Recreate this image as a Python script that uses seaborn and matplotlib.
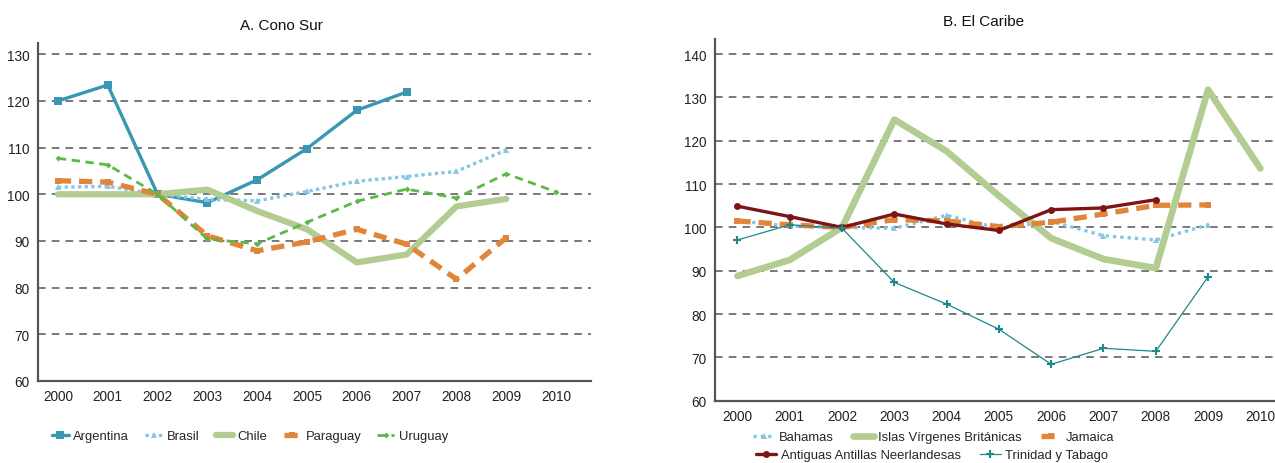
import numpy as np
import pandas as pd
import matplotlib
matplotlib.use("Agg")
import matplotlib.pyplot as plt
import seaborn as sns

sns.set_style("white")
plt.rcParams["font.family"] = ["Liberation Sans", "DejaVu Sans"]

years = list(range(2000, 2011))

# A. Cono Sur
argentina = [120.0, 123.4, 100.0, 98.2, 103.1, 109.8, 118.0, 121.9, None, None, None]
brasil    = [101.5, 101.7, 100.0, 98.9, 98.6, 100.6, 102.8, 103.8, 104.9, 109.5, None]
chile     = [100.0, 100.0, 100.0, 101.0, 96.4, 92.5, 85.4, 87.1, 97.4, 99.0, None]
paraguay  = [102.9, 102.6, 100.0, 91.1, 87.9, 89.8, 92.5, 89.3, 81.8, 90.7, None]
uruguay   = [107.7, 106.3, 100.0, 90.4, 89.4, 94.0, 98.5, 101.1, 99.2, 104.4, 100.5]

# B. El Caribe
bahamas   = [101.5, 100.3, 100.0, 99.8, 102.8, 99.8, 101.4, 98.1, 97.1, 100.6, None]
islas     = [88.8, 92.5, 100.0, 124.9, 117.6, 107.3, 97.5, 92.7, 90.6, 131.8, 113.6]
jamaica   = [101.5, 100.6, 100.0, 101.8, 101.5, 100.2, 101.2, 103.1, 105.1, 105.2, None]
antillas  = [104.9, 102.5, 100.0, 103.1, 100.8, 99.3, 104.1, 104.5, 106.4, None, None]
trinidad  = [97.1, 100.6, 99.8, 87.3, 82.3, 76.5, 68.4, 72.1, 71.4, 88.6, None]

panel_a = {"Argentina": argentina, "Brasil": brasil, "Chile": chile,
           "Paraguay": paraguay, "Uruguay": uruguay}
panel_b = {"Bahamas": bahamas, "Islas Vírgenes Británicas": islas,
           "Jamaica": jamaica, "Antiguas Antillas Neerlandesas": antillas,
           "Trinidad y Tabago": trinidad}

styles = {
    "Argentina": dict(color="#3a97b1", lw=2.4, ls="-", marker="s", ms=6),
    "Brasil": dict(color="#86c5e6", lw=2.4, ls=(0, (1, 1)), marker="^", ms=4),
    "Chile": dict(color="#b3cc92", lw=4.5, ls="-", marker=None, ms=0),
    "Paraguay": dict(color="#e0853a", lw=3.8, ls=(0, (2.5, 1.5)), marker="s", ms=4),
    "Uruguay": dict(color="#5cb947", lw=2.0, ls=(0, (3, 2)), marker="D", ms=3),
    "Bahamas": dict(color="#86c5e6", lw=2.4, ls=(0, (1, 1.2)), marker="^", ms=4),
    "Islas Vírgenes Británicas": dict(color="#b3cc92", lw=4.8, ls="-", marker=None, ms=0),
    "Jamaica": dict(color="#e0853a", lw=3.8, ls=(0, (2.5, 1.5)), marker="s", ms=4),
    "Antiguas Antillas Neerlandesas": dict(color="#7d1416", lw=2.4, ls="-", marker="o", ms=5),
    "Trinidad y Tabago": dict(color="#1a8a8c", lw=0.9, ls="-", marker="+", ms=6),
}


def long_df(series):
    rows = []
    for name, vals in series.items():
        for yr, v in zip(years, vals):
            if v is not None:
                rows.append({"year": yr, "value": v, "serie": name})
    return pd.DataFrame(rows)


W, H = 1275, 464
fig = plt.figure(figsize=(W / 100, H / 100), dpi=100)
ax_a = fig.add_axes([38 / W, 1 - 382 / H, (591 - 38) / W, (382 - 44) / H])
ax_b = fig.add_axes([715 / W, 1 - 401.7 / H, (W - 715) / W, (401.7 - 40) / H])


def draw(ax, series, title, ylim, yticks, xlim):
    df = long_df(series)
    for name in series:
        st = styles[name]
        sub = df[df["serie"] == name]
        sns.lineplot(data=sub, x="year", y="value", ax=ax, color=st["color"],
                     linewidth=st["lw"], linestyle=st["ls"], marker=st["marker"],
                     markersize=st["ms"], markeredgewidth=1.5 if st["marker"] == "+" else 0,
                     markeredgecolor=st["color"], label=name, legend=False)
    ax.set_ylim(*ylim)
    ax.set_xlim(*xlim)
    ax.set_yticks(yticks)
    ax.set_xticks(years)
    ax.set_xlabel("")
    ax.set_ylabel("")
    for y in yticks[1:]:
        ax.axhline(y, color="#555555", lw=1.1, ls=(0, (5, 4)), zorder=0)
    for s in ["top", "right"]:
        ax.spines[s].set_visible(False)
    for s in ["left", "bottom"]:
        ax.spines[s].set_color("#555555")
        ax.spines[s].set_linewidth(1.6)
    ax.tick_params(axis="both", labelsize=9.8, colors="#222222", length=0, pad=6)
    ax.set_title(title, fontsize=11, color="#111111", pad=10)


draw(ax_a, panel_a, "A. Cono Sur", (60, 132.4), list(range(60, 131, 10)), (1999.6, 2010.7))
draw(ax_b, panel_b, "B. El Caribe", (60, 143.5), list(range(60, 141, 10)), (1999.57, 2010.28))
ax_a.title.set_position((0.44, 1.0))
ax_b.title.set_position((0.48, 1.0))

leg_kw = dict(frameon=False, fontsize=9.4, loc="center", borderaxespad=0,
              handletextpad=0.35, borderpad=0)

h_a, l_a = ax_a.get_legend_handles_labels()
fig.legend(h_a, l_a, bbox_to_anchor=(250 / W, 1 - 437 / H), ncol=5,
           handlelength=1.3, columnspacing=1.25, **leg_kw)

h_b, l_b = ax_b.get_legend_handles_labels()
fig.legend(h_b[:3], l_b[:3], bbox_to_anchor=(934 / W, 1 - 438 / H), ncol=3,
           handlelength=1.6, columnspacing=1.45, **leg_kw)
fig.legend(h_b[3:], l_b[3:], bbox_to_anchor=(932 / W, 1 - 456 / H), ncol=2,
           handlelength=1.6, columnspacing=1.45, **leg_kw)

fig.savefig("out.png", dpi=100)
